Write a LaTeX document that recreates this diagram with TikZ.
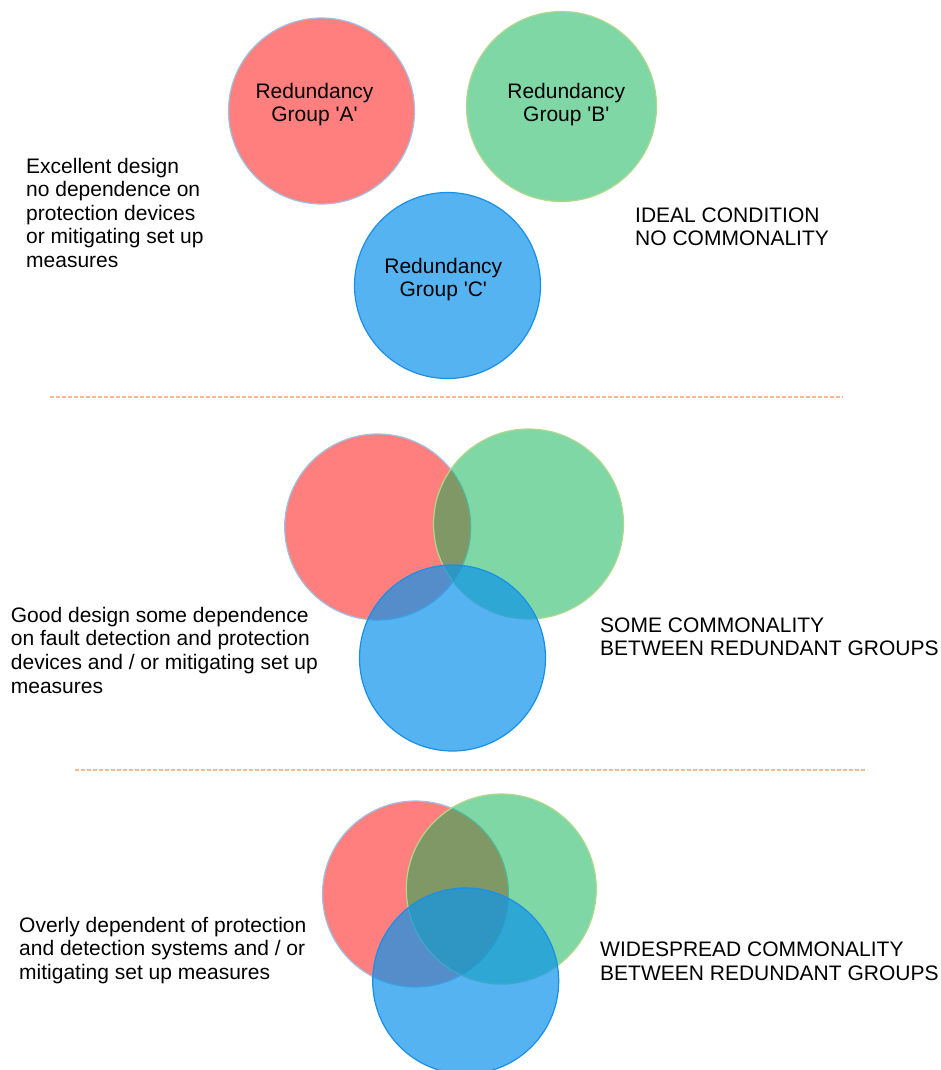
\documentclass[tikz,border=0pt]{standalone}
\usepackage{fontspec}
\setmainfont{Liberation Sans}
\definecolor{cRed}{RGB}{255,0,0}
\definecolor{cGreen}{RGB}{0,177,77}
\definecolor{cBlue}{RGB}{15,148,234}
\definecolor{bRed}{RGB}{160,192,224}
\definecolor{bGreen}{RGB}{176,216,140}
\definecolor{bBlue}{RGB}{26,143,232}
\definecolor{dashc}{RGB}{246,184,140}
\tikzset{
  redc/.style={circle, inner sep=0pt, minimum size=186pt, fill=cRed, fill opacity=0.5, draw=bRed, draw opacity=1, line width=1.2pt},
  greenc/.style={circle, inner sep=0pt, minimum size=190pt, fill=cGreen, fill opacity=0.5, draw=bGreen, draw opacity=1, line width=1.2pt},
  bluec/.style={circle, inner sep=0pt, minimum size=186pt, fill=cBlue, fill opacity=0.71, draw=bBlue, draw opacity=1, line width=1.2pt},
  txt/.style={inner sep=0pt, font=\fontsize{21}{23.6}\selectfont, align=left, anchor=north west, text=black},
  ctxt/.style={inner sep=0pt, font=\fontsize{21}{23.2}\selectfont, align=center, anchor=north, text=black},
  sep/.style={draw=dashc, line width=1.3pt, dash pattern=on 4pt off 2pt}
}
\begin{document}
\begin{tikzpicture}[x=1pt,y=-1pt]
\useasboundingbox (0,0) rectangle (941,1070);
\clip (0,0) rectangle (941,1070);
\fill[white] (0,0) rectangle (941,1070);
% top section
\node[redc] (a1) at (321.5,111) {};
\node[greenc] (b1) at (561.5,106.5) {};
\node[bluec] (c1) at (447.5,285.5) {};
\node[ctxt] (ta) at (314.5,82.2) {\strut Redundancy\\Group \textquotesingle A\textquotesingle};
\node[ctxt] (tb) at (566.3,82.2) {\strut Redundancy\\Group \textquotesingle B\textquotesingle};
\node[ctxt] (tc) at (443.3,257.2) {\strut Redundancy\\Group \textquotesingle C\textquotesingle};
\node[txt] (l1) at (26,156.3) {\strut Excellent design\\no dependence on\\protection devices\\or mitigating set up\\measures};
\node[txt] (r1) at (635,205.5) {\strut IDEAL CONDITION\\NO COMMONALITY};
% separator 1
\coordinate (s1a) at (50,397);
\coordinate (s1b) at (843,397);
\draw[sep] (s1a) -- (s1b);
% middle section
\node[redc] (a2) at (377.7,527) {};
\node[greenc] (b2) at (528.5,524) {};
\node[bluec] (c2) at (452.5,658) {};
\node[txt] (l2) at (10.7,605.5) {\strut Good design some dependence\\on fault detection and protection\\devices and / or mitigating set up\\measures};
\node[txt] (r2) at (600,615.5) {\strut SOME COMMONALITY\\BETWEEN REDUNDANT GROUPS};
% separator 2
\coordinate (s2a) at (75,770);
\coordinate (s2b) at (867,770);
\draw[sep] (s2a) -- (s2b);
% bottom section
\node[redc] (a3) at (415.5,894) {};
\node[greenc] (b3) at (501.3,889) {};
\node[bluec] (c3) at (465.7,981) {};
\node[txt] (l3) at (19,915.5) {\strut Overly dependent of protection\\and detection systems and / or\\mitigating set up measures};
\node[txt] (r3) at (600,940) {\strut WIDESPREAD COMMONALITY\\BETWEEN REDUNDANT GROUPS};
\end{tikzpicture}
\end{document}
